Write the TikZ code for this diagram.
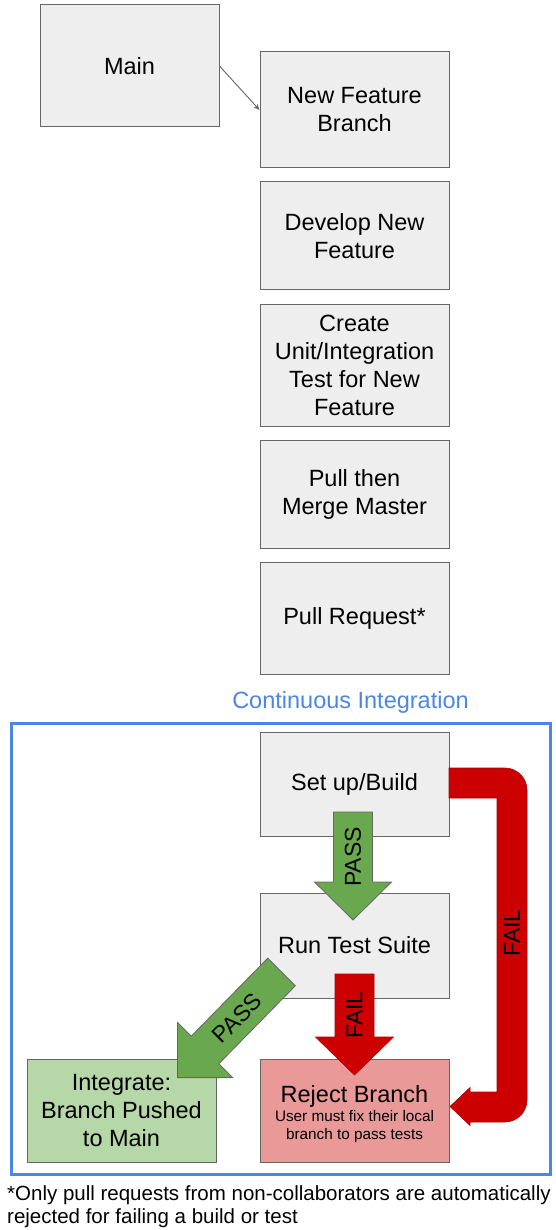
\documentclass[tikz,border=0pt]{standalone}
\usepackage{fontspec}
\setmainfont{Liberation Sans}
\usetikzlibrary{arrows.meta}
\definecolor{boxfill}{HTML}{EEEEEE}
\definecolor{boxline}{HTML}{666666}
\definecolor{passgreen}{HTML}{6AA84F}
\definecolor{failred}{HTML}{CC0000}
\definecolor{intfill}{HTML}{B6D7A8}
\definecolor{rejfill}{HTML}{EA9999}
\definecolor{ciblue}{HTML}{4A86E8}
\newcommand{\subtxt}{\fontsize{15.3}{18}\selectfont}
\begin{document}
\begin{tikzpicture}[x=1pt,y=-1pt,
  stepbox/.style={draw=boxline, line width=1pt, fill=boxfill, minimum width=189pt,
    inner sep=0pt, align=center, font=\fontsize{23.5}{28}\selectfont},
  conn/.style={draw=boxline, line width=0.9pt, -{Stealth[length=6pt,width=5pt]}},
  passarrow/.style={fill=passgreen, draw=black!60, line width=0.8pt},
  failarrow/.style={fill=failred, draw=failred!85!black, line width=0.6pt},
  arrowlabel/.style={font=\fontsize{23}{28}\selectfont, inner sep=0pt},
  cibox/.style={draw=ciblue, line width=3pt}]
\useasboundingbox (0,0) rectangle (555,1230);

% top flow
\node[stepbox, minimum width=179pt, minimum height=122pt] (main) at (129.5,66) {Main};
\node[stepbox, minimum height=116pt] (nfb) at (354.5,110) {New Feature\\Branch};
\node[stepbox, minimum height=108pt] (dev) at (354.5,236) {Develop New\\Feature};
\node[stepbox, minimum height=122pt] (test) at (354.5,365) {Create\\Unit/Integration\\Test for New\\Feature};
\node[stepbox, minimum height=108pt] (merge) at (354.5,494) {Pull then\\Merge Master};
\node[stepbox, minimum height=112pt] (pr) at (354.5,618) {Pull Request*};
\draw[conn] (main.east) -- (nfb.west);

% continuous integration
\node[text=ciblue, font=\fontsize{23.5}{28}\selectfont, inner sep=0pt] (cititle) at (350.5,702) {Continuous Integration};
\draw[cibox] (11.5,723.5) rectangle (550.5,1174);

\node[stepbox, minimum height=104pt] (build) at (354.5,784) {Set up/Build};
\node[stepbox, minimum height=105pt] (run) at (354.5,945.5) {Run Test Suite};
\node[stepbox, fill=intfill, minimum height=103pt] (integ) at (121.5,1110.5) {Integrate:\\Branch Pushed\\to Main};
\node[stepbox, fill=rejfill, minimum height=103pt] (reject) at (354.5,1110.5) {};
\node[inner sep=0pt, align=center, font=\subtxt] (rejtext) at (354.5,1114)
  {{\fontsize{23.5}{28}\selectfont Reject Branch}\\[1pt]User must fix their local\\branch to pass tests};

% PASS: build -> run
\draw[passarrow] (333.5,812) -- (372.5,812) -- (372.5,882) -- (391.5,882) -- (353,920)
  -- (314.5,882) -- (333.5,882) -- cycle;
\node[arrowlabel, rotate=90] (passone) at (353,857) {PASS};

% PASS: run -> integrate
\draw[passarrow] (267.7,958.2) -- (295.3,985.8) -- (218.8,1063.8) -- (232.6,1077.6)
  -- (177.4,1077.6) -- (177.4,1022.4) -- (191.2,1036.2) -- cycle;
\node[arrowlabel, rotate=45] (passtwo) at (237,1018) {PASS};

% FAIL: run -> reject
\draw[failarrow] (335,974) -- (374,974) -- (374,1037) -- (393.5,1037) -- (354.5,1075)
  -- (315.5,1037) -- (335,1037) -- cycle;
\node[arrowlabel, rotate=90] (failone) at (354.5,1015) {FAIL};

% FAIL: build -> reject (bent arrow)
\draw[failarrow] (449,768) -- (505,768) .. controls (517,768) and (527,778) .. (527,790)
  -- (527,1100) .. controls (527,1112) and (517,1122) .. (505,1122)
  -- (470,1122) -- (470,1125.5) -- (450,1106.5) -- (470,1087.5) -- (470,1092)
  -- (497,1092) -- (497,798) -- (449,798) -- cycle;
\node[arrowlabel, rotate=90] (failtwo) at (512,933) {FAIL};

% footnote
\node[anchor=north west, align=left, inner sep=0pt, font=\fontsize{20.5}{23}\selectfont] (note) at (7,1185)
  {*Only pull requests from non-collaborators are automatically\\rejected for failing a build or test};
\end{tikzpicture}
\end{document}
